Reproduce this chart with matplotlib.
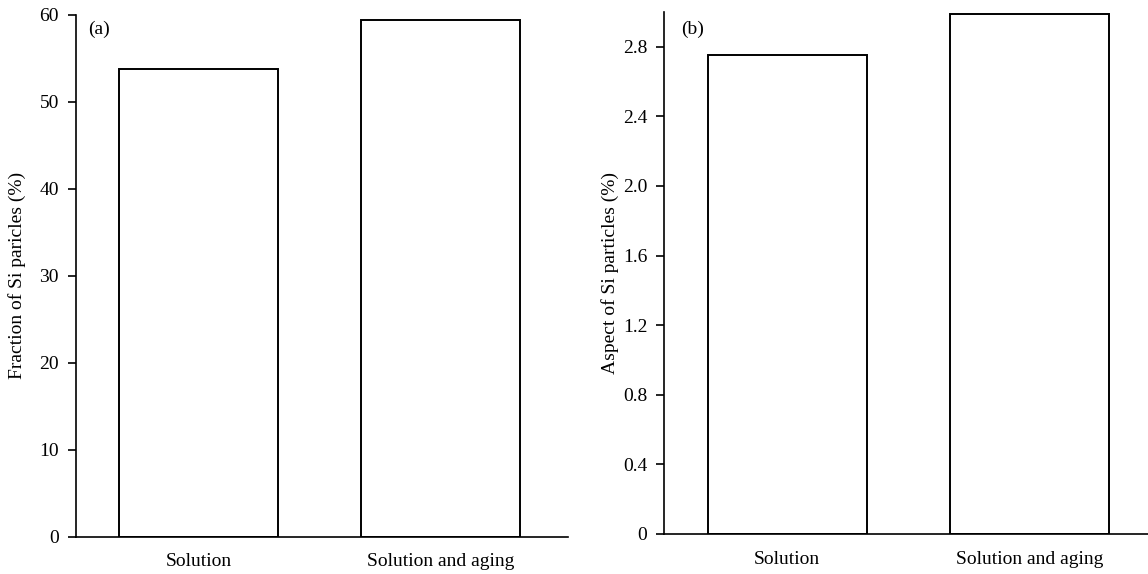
import matplotlib
matplotlib.use("Agg")
import matplotlib.pyplot as plt

# data
categories = ["Solution", "Solution and aging"]
fraction_vals = [53.8, 59.4]
aspect_vals = [2.75, 2.99]

frac_ticks = [0, 10, 20, 30, 40, 50, 60]
frac_ticklabels = ["0", "10", "20", "30", "40", "50", "60"]
asp_ticks = [0, 0.4, 0.8, 1.2, 1.6, 2.0, 2.4, 2.8]
asp_ticklabels = ["0", "0.4", "0.8", "1.2", "1.6", "2.0", "2.4", "2.8"]

plt.rcParams["font.family"] = ["Liberation Serif", "DejaVu Serif"]
plt.rcParams["font.size"] = 14

fig = plt.figure(figsize=(11.48, 5.74), dpi=100)
ax1 = fig.add_axes([0.0659, 0.0650, 0.4291, 0.9089])
ax2 = fig.add_axes([0.5784, 0.0697, 0.4216, 0.9094])

x = list(range(len(categories)))


def style(ax):
    for s in ["top", "right"]:
        ax.spines[s].set_visible(False)
    for s in ["left", "bottom"]:
        ax.spines[s].set_linewidth(1.2)
    ax.tick_params(axis="y", direction="out", length=6, width=1.2, pad=6)
    ax.tick_params(axis="x", length=0, pad=12)


# (a)
ax1.bar(x, fraction_vals, width=0.655, color="white", edgecolor="black", linewidth=1.4)
ax1.set_xlim(-0.507, 1.528)
ax1.set_ylim(0, 60)
ax1.set_yticks(frac_ticks)
ax1.set_yticklabels(frac_ticklabels)
ax1.set_xticks(x)
ax1.set_xticklabels(categories)
ax1.set_ylabel("Fraction of Si paricles (%)")
ax1.yaxis.set_label_coords(-0.101, 0.5)
ax1.text(0.025, 0.973, "(a)", transform=ax1.transAxes, va="center", ha="left")
style(ax1)

# (b)
ax2.bar(x, aspect_vals, width=0.655, color="white", edgecolor="black", linewidth=1.4)
ax2.set_xlim(-0.509, 1.49)
ax2.set_ylim(0, 3.0)
ax2.set_yticks(asp_ticks)
ax2.set_yticklabels(asp_ticklabels)
ax2.set_xticks(x)
ax2.set_xticklabels(categories)
ax2.set_ylabel("Aspect of Si particles (%)")
ax2.yaxis.set_label_coords(-0.092, 0.5)
ax2.text(0.036, 0.967, "(b)", transform=ax2.transAxes, va="center", ha="left")
style(ax2)

fig.savefig("out.png", dpi=100)
